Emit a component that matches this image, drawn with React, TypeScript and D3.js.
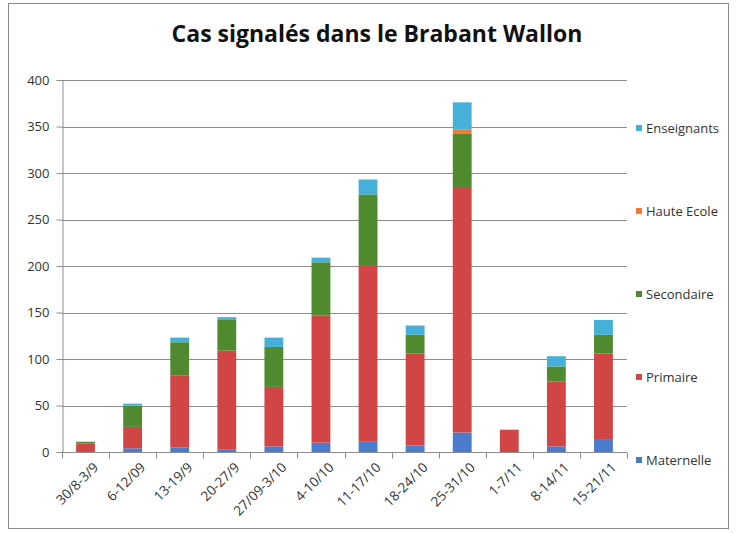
import { useEffect, useRef } from "react";
import * as d3 from "d3";

const weeks = [
  "30/8-3/9", "6-12/09", "13-19/9", "20-27/9", "27/09-3/10", "4-10/10",
  "11-17/10", "18-24/10", "25-31/10", "1-7/11", "8-14/11", "15-21/11",
];
const seriesNames = ["Maternelle", "Primaire", "Secondaire", "Haute Ecole", "Enseignants"];
const maternelle = [0, 4, 5, 3, 6, 10, 11, 7, 21, 0, 6, 13];
const primaire = [9, 23, 77, 106, 64, 137, 190, 99, 264, 24, 70, 93];
const secondaire = [2, 23, 36, 33, 43, 57, 76, 20, 57, 0, 16, 20];
const hauteEcole = [0, 0, 0, 0, 0, 0, 0, 0, 5, 0, 0, 0];
const enseignants = [0, 2, 5, 3, 10, 5, 16, 10, 29, 0, 11, 16];
const colors = ["#4a7ccb", "#d24545", "#4f8a2f", "#f07c30", "#45b0d8"];
const yTicks = [0, 50, 100, 150, 200, 250, 300, 350, 400];

const App = () => {
  const svgRef = useRef<SVGSVGElement>(null);

  useEffect(() => {
    if (!svgRef.current) return;
    const svg = d3.select(svgRef.current);
    svg.selectAll("*").remove();

    const width = 737;
    const height = 533;
    const margin = { top: 80, right: 123, bottom: 81, left: 62 };
    const font = "Open Sans, Liberation Sans, sans-serif";

    const rows = weeks.map((w, i) => ({
      week: w,
      Maternelle: maternelle[i],
      Primaire: primaire[i],
      Secondaire: secondaire[i],
      "Haute Ecole": hauteEcole[i],
      Enseignants: enseignants[i],
    }));

    const x = d3
      .scaleBand()
      .domain(weeks)
      .range([margin.left, width - margin.right + 13])
      .paddingInner(0.6)
      .paddingOuter(0.3);

    const y = d3
      .scaleLinear()
      .domain([0, 400])
      .range([height - margin.bottom, margin.top]);

    const color = d3.scaleOrdinal<string>().domain(seriesNames).range(colors);

    // outer frame
    svg
      .append("rect")
      .attr("x", 8.5)
      .attr("y", 3.5)
      .attr("width", 720)
      .attr("height", 525)
      .attr("fill", "white")
      .attr("stroke", "#8a8a8a");

    // title
    svg
      .append("text")
      .attr("x", 377)
      .attr("y", 42)
      .attr("text-anchor", "middle")
      .attr("font-family", font)
      .attr("font-size", "23px")
      .attr("font-weight", "700")
      .attr("fill", "#111")
      .text("Cas signalés dans le Brabant Wallon");

    const [x0, x1] = x.range();

    // gridlines
    svg
      .selectAll("line.grid")
      .data(yTicks.slice(1))
      .join("line")
      .attr("class", "grid")
      .attr("x1", x0)
      .attr("x2", x1)
      .attr("y1", (d) => Math.round(y(d)) + 0.5)
      .attr("y2", (d) => Math.round(y(d)) + 0.5)
      .attr("stroke", "#8c8c8c");

    // y axis
    const yAxis = svg
      .append("g")
      .attr("transform", `translate(${x0 + 0.5},0)`)
      .call(d3.axisLeft(y).tickValues(yTicks).tickSize(6).tickPadding(7));
    yAxis.select(".domain").attr("stroke", "#8c8c8c");
    yAxis.selectAll(".tick line").attr("stroke", "#8c8c8c");
    yAxis
      .selectAll(".tick text")
      .attr("font-family", font)
      .attr("font-size", "13px")
      .attr("fill", "#333");

    // bars
    const stacked = d3.stack<any>().keys(seriesNames)(rows);
    svg
      .append("g")
      .selectAll("g")
      .data(stacked)
      .join("g")
      .attr("fill", (d) => color(d.key))
      .selectAll("rect")
      .data((d) => d)
      .join("rect")
      .attr("x", (d) => x(d.data.week)!)
      .attr("y", (d) => y(d[1]))
      .attr("width", x.bandwidth())
      .attr("height", (d) => y(d[0]) - y(d[1]));

    // x axis line with ticks between categories
    const yBase = Math.round(y(0)) + 0.5;
    svg
      .append("line")
      .attr("x1", x0)
      .attr("x2", x1)
      .attr("y1", yBase)
      .attr("y2", yBase)
      .attr("stroke", "#8c8c8c");
    const boundaries = weeks.map((w) => x(w)! - (x.step() - x.bandwidth()) / 2).concat([x1]);
    svg
      .selectAll("line.xtick")
      .data(boundaries)
      .join("line")
      .attr("class", "xtick")
      .attr("x1", (d) => Math.round(d) + 0.5)
      .attr("x2", (d) => Math.round(d) + 0.5)
      .attr("y1", yBase)
      .attr("y2", yBase + 6)
      .attr("stroke", "#8c8c8c");

    svg
      .selectAll("text.xlabel")
      .data(weeks)
      .join("text")
      .attr("class", "xlabel")
      .attr(
        "transform",
        (d) => `translate(${x(d)! + x.bandwidth() / 2 + 7},${yBase + 9}) rotate(-45)`
      )
      .attr("text-anchor", "end")
      .attr("dy", "0.7em")
      .attr("font-family", font)
      .attr("font-size", "13.5px")
      .attr("fill", "#333")
      .text((d) => d);

    // legend
    const legendY = [460, 377, 294, 211, 128];
    const legend = svg
      .append("g")
      .selectAll("g")
      .data(seriesNames)
      .join("g")
      .attr("transform", (_, i) => `translate(636,${legendY[i]})`);
    legend
      .append("rect")
      .attr("x", 0)
      .attr("y", -3)
      .attr("width", 6)
      .attr("height", 6)
      .attr("fill", (d) => color(d));
    legend
      .append("text")
      .attr("x", 10)
      .attr("dy", "0.35em")
      .attr("font-family", font)
      .attr("font-size", "13px")
      .attr("fill", "#333")
      .text((d) => d);
  }, []);

  return (
    <svg
      ref={svgRef}
      width={737}
      height={533}
      style={{ position: "absolute", left: 0, top: 0, display: "block" }}
    />
  );
};

export default App;
